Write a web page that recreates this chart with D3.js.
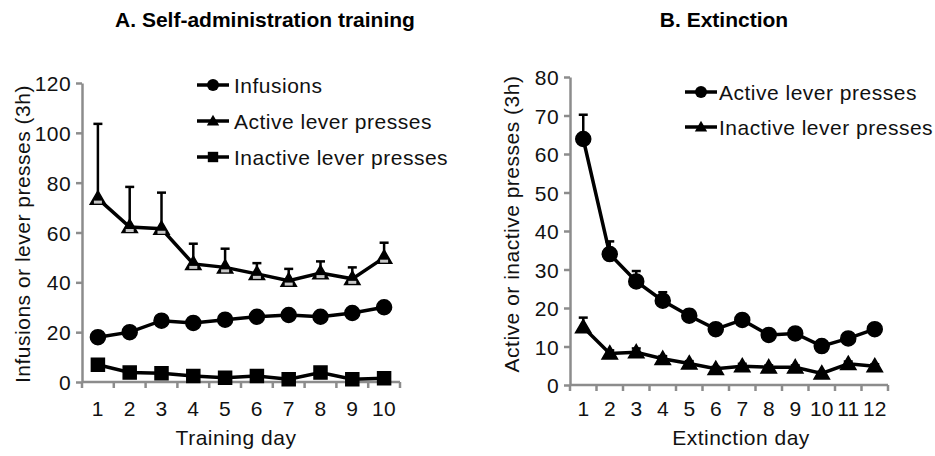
<!DOCTYPE html>
<html><head><meta charset="utf-8">
<script src="https://cdn.jsdelivr.net/npm/d3@7/dist/d3.min.js"></script>
<style>body{margin:0;background:#fff}svg text{font-family:"Liberation Sans",Arial,sans-serif}</style>
</head><body>
<svg id="c" width="935" height="456"></svg>
<script>
// ---- Data ----
const trainingDays = [1, 2, 3, 4, 5, 6, 7, 8, 9, 10];
const infusions = [18, 20, 24.6, 23.7, 25, 26.2, 26.9, 26.2, 27.7, 30];
const infusionsErr = [1, 1, 1, 1, 1, 1, 1, 1, 1, 1.2];
const activeTraining = [73.6, 62.2, 61.5, 47.4, 46, 43.4, 40.7, 43.7, 41.4, 49.9];
const activeTrainingErr = [30, 16.1, 14.5, 8.1, 7.5, 4.3, 4.7, 4.7, 4.6, 6];
const inactiveTraining = [6.9, 3.8, 3.5, 2.4, 1.7, 2.4, 1.1, 3.8, 1.1, 1.5];
const inactiveTrainingErr = [1, 0.8, 0.8, 0.6, 0.5, 0.6, 0.4, 0.8, 0.4, 0.4];
const trainingTicks = [0, 20, 40, 60, 80, 100, 120];

const extinctionDays = [1, 2, 3, 4, 5, 6, 7, 8, 9, 10, 11, 12];
const activeExt = [63.9, 34, 26.9, 21.9, 18, 14.5, 16.9, 13, 13.4, 10.1, 12.1, 14.5];
const activeExtErr = [6.3, 3.3, 2.7, 2.2, 1.5, 1.1, 1.3, 1, 1, 0.8, 1, 1];
const inactiveExt = [15, 8.2, 8.5, 6.8, 5.6, 4.2, 4.9, 4.6, 4.6, 3.0, 5.5, 4.9];
const inactiveExtErr = [2.5, 0.8, 1, 0.7, 0.6, 0.5, 0.6, 0.5, 0.5, 0.4, 0.6, 0.5];
const extinctionTicks = [0, 10, 20, 30, 40, 50, 60, 70, 80];

// ---- Drawing ----
const svg = d3.select("#c");
const AXIS = "#8c8c8c";
const FS = 21;

function markerPath(type, s) {
  if (type === "circle") return d3.symbol(d3.symbolCircle, Math.PI * s * s)();
  if (type === "square") return `M${-s},${-s}H${s}V${s}H${-s}Z`;
  // triangle
  return `M0,${-s * 1.1}L${s * 1.1},${s * 0.8}L${-s * 1.1},${s * 0.8}Z`;
}

function drawPanel(opt) {
  const g = svg.append("g");
  const x = d3.scaleBand().domain(opt.days).range(opt.xr).padding(0);
  const y = d3.scaleLinear().domain(opt.ydom).range(opt.yr);
  const cx = d => x(d) + x.bandwidth() / 2;

  // y axis
  const ya = d3.axisLeft(y).tickValues(opt.ticks).tickSize(6).tickSizeOuter(0).tickPadding(5);
  const yg = g.append("g").attr("transform", `translate(${opt.xr[0]},0)`).call(ya);
  yg.select(".domain").attr("stroke", AXIS).attr("stroke-width", 2.5);
  yg.selectAll(".tick line").attr("stroke", AXIS).attr("stroke-width", 2.5);
  yg.selectAll(".tick text").attr("font-size", FS).attr("fill", "#111")
    .attr("letter-spacing", "0.4px").attr("dy", "0.36em").attr("font-family", '"Liberation Sans",Arial,sans-serif');

  // x axis: line + boundary ticks + labels
  g.append("line").attr("x1", opt.xr[0]).attr("x2", opt.xr[1])
    .attr("y1", y(0)).attr("y2", y(0)).attr("stroke", AXIS).attr("stroke-width", 2.5);
  const bounds = opt.days.map(d => x(d)).concat([opt.xr[1]]);
  g.selectAll(".xt").data(bounds).join("line")
    .attr("x1", d => d).attr("x2", d => d)
    .attr("y1", y(0)).attr("y2", y(0) + 6)
    .attr("stroke", AXIS).attr("stroke-width", 2.5);
  g.selectAll(".xl").data(opt.days).join("text")
    .attr("x", cx).attr("y", y(0) + opt.xlabOff)
    .attr("text-anchor", "middle").attr("font-size", FS).attr("fill", "#111")
    .attr("letter-spacing", opt.xls || "0.4px")
    .text(d => d);

  // axis titles
  g.append("text").attr("x", opt.xTitle[0]).attr("y", opt.xTitle[1])
    .attr("text-anchor", "middle").attr("font-size", FS).attr("fill", "#111")
    .attr("letter-spacing", "0.5px").text(opt.xTitleText);
  g.append("text").attr("transform", `translate(${opt.yTitle[0]},${opt.yTitle[1]}) rotate(-90)`)
    .attr("text-anchor", "middle").attr("dominant-baseline", "central").attr("font-size", FS).attr("fill", "#111")
    .attr("letter-spacing", "0.5px").text(opt.yTitleText);

  // panel title
  g.append("text").attr("x", opt.title[0]).attr("y", opt.title[1])
    .attr("text-anchor", "middle").attr("font-size", 21).attr("font-weight", "bold")
    .attr("fill", "#000").text(opt.titleText);

  const line = d3.line().x(d => cx(d.day)).y(d => y(d.v));

  opt.series.forEach(s => {
    const pts = opt.days.map((d, i) => ({ day: d, v: s.values[i], e: s.err[i] }));
    // error bars (plus direction)
    g.selectAll(null).data(pts).join("line")
      .attr("x1", d => cx(d.day)).attr("x2", d => cx(d.day))
      .attr("y1", d => y(d.v)).attr("y2", d => y(d.v + d.e))
      .attr("stroke", "#000").attr("stroke-width", 2.5);
    g.selectAll(null).data(pts).join("line")
      .attr("x1", d => cx(d.day) - 4.5).attr("x2", d => cx(d.day) + 4.5)
      .attr("y1", d => y(d.v + d.e)).attr("y2", d => y(d.v + d.e))
      .attr("stroke", "#000").attr("stroke-width", 2.5);
    s.pts = pts;
  });
  opt.series.forEach(s => {
    g.append("path").datum(s.pts).attr("d", line)
      .attr("fill", "none").attr("stroke", "#000").attr("stroke-width", 3.5);
  });
  opt.series.forEach(s => {
    g.selectAll(null).data(s.pts).join("path")
      .attr("transform", d => `translate(${cx(d.day)},${y(d.v)})`)
      .attr("d", markerPath(s.marker, s.size))
      .attr("fill", "#000").attr("stroke", "#000").attr("stroke-width", 1.5);
    if (s.hollow) {
      g.selectAll(null).data(s.pts).join("rect")
        .attr("x", d => cx(d.day) - 4).attr("y", d => y(d.v) + 2)
        .attr("width", 8).attr("height", 3).attr("fill", "#c8c8c8");
    }
  });

  // legend
  opt.series.forEach((s, i) => {
    const ly = opt.legend.y[i];
    g.append("line").attr("x1", opt.legend.x0).attr("x2", opt.legend.x1)
      .attr("y1", ly).attr("y2", ly).attr("stroke", "#000").attr("stroke-width", 3.5);
    const mx = (opt.legend.x0 + opt.legend.x1) / 2;
    g.append("path").attr("transform", `translate(${mx},${ly})`)
      .attr("d", markerPath(s.marker, s.size * 0.8)).attr("fill", "#000");
    g.append("text").attr("x", opt.legend.tx).attr("y", ly).attr("dy", "0.36em")
      .attr("font-size", FS).attr("fill", "#111").attr("letter-spacing", "0.5px").text(s.name);
  });
}

drawPanel({
  days: trainingDays, xr: [82, 400], ydom: [0, 120], yr: [382, 83], ticks: trainingTicks,
  xlabOff: 34, xTitle: [236, 445], xTitleText: "Training day",
  yTitle: [22, 234], yTitleText: "Infusions or lever presses (3h)",
  title: [265, 27], titleText: "A. Self-administration training",
  legend: { x0: 197, x1: 229, tx: 234, y: [85, 121, 157] },
  series: [
    { name: "Infusions", values: infusions, err: infusionsErr, marker: "circle", size: 7.5 },
    { name: "Active lever presses", values: activeTraining, err: activeTrainingErr, marker: "triangle", size: 7, hollow: true },
    { name: "Inactive lever presses", values: inactiveTraining, err: inactiveTrainingErr, marker: "square", size: 6.5 }
  ]
});

drawPanel({
  days: extinctionDays, xr: [570, 888], ydom: [0, 80], yr: [385, 77], ticks: extinctionTicks,
  xlabOff: 31, xls: "0px", xTitle: [741, 445], xTitleText: "Extinction day",
  yTitle: [511, 224], yTitleText: "Active or inactive presses (3h)",
  title: [724, 27], titleText: "B. Extinction",
  legend: { x0: 685, x1: 717, tx: 719, y: [92, 127] },
  series: [
    { name: "Active lever presses", values: activeExt, err: activeExtErr, marker: "circle", size: 7.5 },
    { name: "Inactive lever presses", values: inactiveExt, err: inactiveExtErr, marker: "triangle", size: 7 }
  ]
});
</script>
</body></html>
